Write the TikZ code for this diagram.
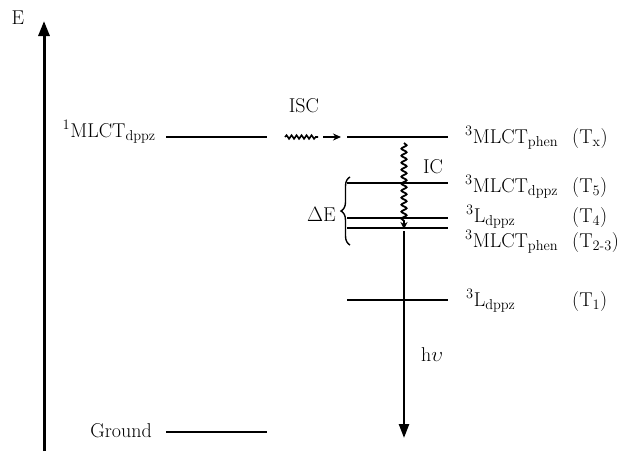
\documentclass[tikz,border=0pt]{standalone}
\usepackage{amsmath}
\usetikzlibrary{arrows.meta,decorations.pathmorphing,decorations.pathreplacing}
\begin{document}
\begin{tikzpicture}[x=1pt,y=-1pt,
  font=\fontsize{20}{24}\selectfont,
  levelline/.style={line width=2.8pt},
  lbl/.style={inner sep=0pt},
  axisline/.style={line width=3pt,-{Triangle[length=15pt,width=11pt]}},
  emit/.style={line width=2.4pt,-{Triangle[length=14pt,width=10pt]}},
  wavy/.style={decorate,decoration={snake,amplitude=#1,segment length=6pt}},
]
\useasboundingbox (0,0) rectangle (628,451);
% axis
\coordinate (ax0) at (44,451);
\coordinate (ax1) at (44,21);
\draw[axisline] (ax0) -- (ax1);
\node[lbl] (E) at (18,18) {E};
% left levels
\coordinate (s1a) at (166,137); \coordinate (s1b) at (267,137);
\coordinate (gra) at (166,432); \coordinate (grb) at (267,432);
\draw[levelline] (s1a) -- (s1b);
\draw[levelline] (gra) -- (grb);
\node[lbl,anchor=base east] (s1lbl) at (156,137) {$^{1}$MLCT$_{\mathrm{dppz}}$};
\node[lbl,anchor=base east] (grlbl) at (152,437) {Ground};
% right levels
\coordinate (txa) at (347,137); \coordinate (txb) at (448,137);
\coordinate (t5a) at (347,183); \coordinate (t5b) at (448,183);
\coordinate (t4a) at (347,218); \coordinate (t4b) at (448,218);
\coordinate (t23a) at (347,228); \coordinate (t23b) at (448,228);
\coordinate (t1a) at (347,300); \coordinate (t1b) at (448,300);
\foreach \l in {tx,t5,t4,t23,t1} \draw[levelline] (\l a) -- (\l b);
% right labels
\node[lbl,anchor=base west] (txlbl) at (465,143) {$^{3}$MLCT$_{\mathrm{phen}}$};
\node[lbl,anchor=base west] (txn) at (572,143) {(T$_{\mathrm{x}}$)};
\node[lbl,anchor=base west] (t5lbl) at (465,192) {$^{3}$MLCT$_{\mathrm{dppz}}$};
\node[lbl,anchor=base west] (t5n) at (572,192) {(T$_{5}$)};
\node[lbl,anchor=base west] (t4lbl) at (466,222) {$^{3}$L$_{\mathrm{dppz}}$};
\node[lbl,anchor=base west] (t4n) at (572,222) {(T$_{4}$)};
\node[lbl,anchor=base west] (t23lbl) at (465,247) {$^{3}$MLCT$_{\mathrm{phen}}$};
\node[lbl,anchor=base west] (t23n) at (572,247) {(T$_{2\text{-}3}$)};
\node[lbl,anchor=base west] (t1lbl) at (466,306) {$^{3}$L$_{\mathrm{dppz}}$};
\node[lbl,anchor=base west] (t1n) at (572,306) {(T$_{1}$)};
% ISC
\coordinate (isc0) at (285,137); \coordinate (isc1) at (318,137);
\coordinate (isc2) at (323,137); \coordinate (isc3) at (341,137);
\draw[line width=1.6pt,wavy=1.8pt,decoration={segment length=5pt}] (isc0) -- (isc1);
\draw[line width=1.2pt,-{Stealth[length=8pt,width=7pt]}] (isc2) -- (isc3);
\node[lbl] (isc) at (304,106) {ISC};
% IC
\coordinate (ic0) at (404,143); \coordinate (ic1) at (404,229);
\draw[line width=1.8pt,decorate,decoration={snake,amplitude=2.6pt,segment length=7pt,post length=5pt},-{Stealth[length=7pt,width=7pt]}] (ic0) -- (ic1);
\node[lbl] (ic) at (433,167) {IC};
% emission
\coordinate (em0) at (404,231); \coordinate (em1) at (404,438);
\draw[emit] (em0) -- (em1);
\node[lbl] (hv) at (432,355) {h$\upsilon$};
% brace
\coordinate (br0) at (350,245); \coordinate (br1) at (350,177);
\draw[line width=1.4pt,decorate,decoration={brace,amplitude=9pt}] (br0) -- (br1);
\node[lbl,anchor=east] (de) at (336,214) {$\Delta$E};
\end{tikzpicture}
\end{document}
